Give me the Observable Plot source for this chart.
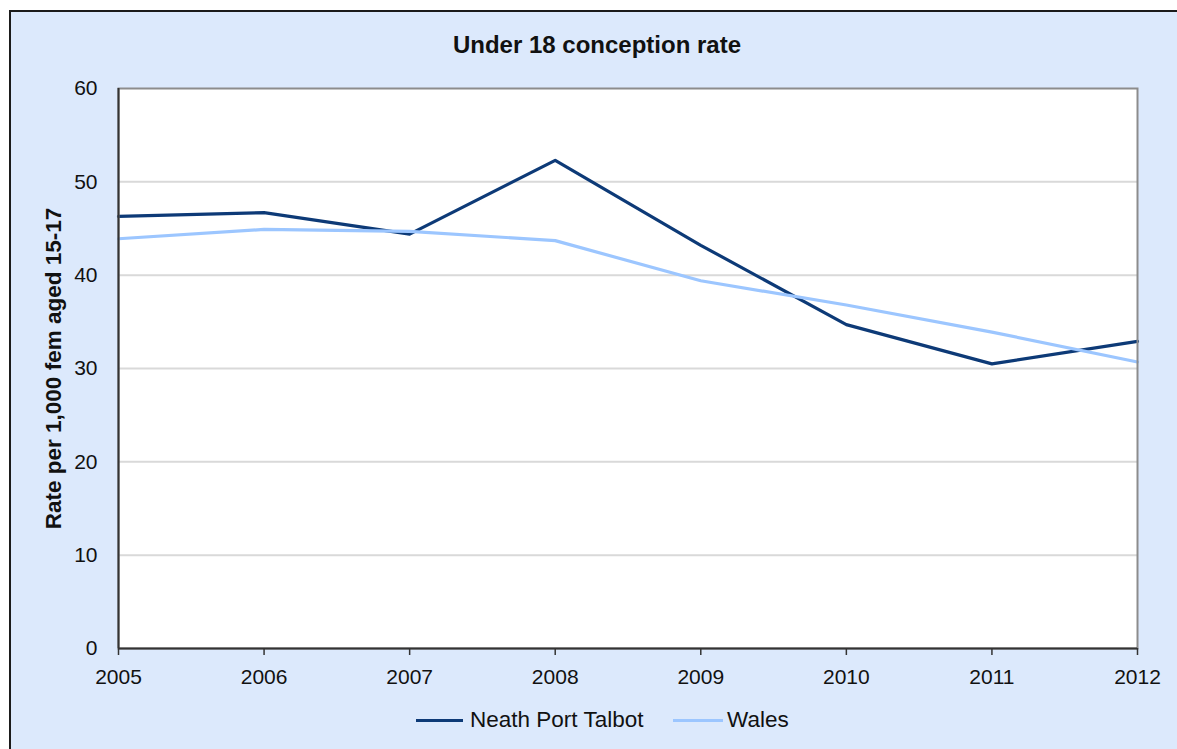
<!DOCTYPE html>
<html>
<head>
<meta charset="utf-8">
<script src="https://cdn.jsdelivr.net/npm/d3@7"></script>
<script src="https://cdn.jsdelivr.net/npm/@observablehq/plot@0.6"></script>
<style>
  html, body { margin: 0; padding: 0; width: 1177px; height: 749px; background: #ffffff; overflow: hidden; font-family: "Liberation Sans", Arial, sans-serif; color: #111; }
  #frame { position: absolute; left: 9px; top: 10px; width: 1166px; height: 737px; border-left: 2px solid #1b1b1b; border-top: 2px solid #1b1b1b; background: #dce9fc; }
  #title { position: absolute; left: 0; top: 33px; width: 1194px; text-align: center; font-weight: bold; font-size: 24px; line-height: 24px; color: #111; }
  #chart { position: absolute; left: 0; top: 60px; }
  .sw { position: absolute; height: 3px; }
  .lt { position: absolute; font-size: 22.5px; line-height: 22px; color: #111; white-space: nowrap; }
</style>
</head>
<body>
<div id="frame"></div>
<div id="title"></div>
<div id="chart"></div>
<div id="legend"></div>
<script>
const titleText = "Under 18 conception rate";
const yLabel = "Rate per 1,000 fem aged 15-17";
const years = [2005, 2006, 2007, 2008, 2009, 2010, 2011, 2012];
const neathName = "Neath Port Talbot";
const walesName = "Wales";
const neath = [46.3, 46.7, 44.4, 52.3, 43.2, 34.7, 30.5, 32.9];
const wales = [43.9, 44.9, 44.7, 43.7, 39.4, 36.8, 33.9, 30.7];
const yTicks = [0, 10, 20, 30, 40, 50, 60];
const gridTicks = [10, 20, 30, 40, 50];
const neathColor = "#0d3a77";
const walesColor = "#9cc6ff";

document.getElementById("title").textContent = titleText;

const rows = (vals) => years.map((y, i) => ({year: y, value: vals[i]}));

const chart = Plot.plot({
  width: 1177,
  height: 620,
  marginLeft: 118,
  marginRight: 40,
  marginTop: 28,
  marginBottom: 32,
  style: { background: "transparent", fontFamily: "'Liberation Sans', Arial, sans-serif", fontSize: "21px", color: "#111", overflow: "visible" },
  x: { type: "linear", domain: [2005, 2012] },
  y: { domain: [0, 60] },
  marks: [
    Plot.frame({ fill: "white", stroke: null }),
    Plot.ruleY(gridTicks, { stroke: "#d9d9d9", strokeWidth: 2 }),
    Plot.lineY(rows(neath), { x: "year", y: "value", stroke: neathColor, strokeWidth: 3.2 }),
    Plot.lineY(rows(wales), { x: "year", y: "value", stroke: walesColor, strokeWidth: 3.2 }),
    Plot.frame({ stroke: "#8c8c8c", strokeWidth: 2 }),
    Plot.ruleX([2005], { stroke: "#333", strokeWidth: 2 }),
    Plot.ruleY([0], { stroke: "#333", strokeWidth: 2 }),
    Plot.axisY({ ticks: yTicks, tickSize: 0, tickPadding: 21, label: null, tickFormat: d => String(d) }),
    Plot.axisX({ ticks: years, tickSize: 7, tickPadding: 14, label: null, tickFormat: d => String(d), stroke: "#333", strokeWidth: 1.5 }),
    Plot.text([yLabel], { text: d => d, frameAnchor: "left", dx: -65, rotate: -90, textAnchor: "middle", fontWeight: "bold", fontSize: 22.5, fill: "#111" })
  ]
});
document.getElementById("chart").appendChild(chart);

const legend = document.getElementById("legend");
const items = [
  { name: neathName, color: neathColor, sx: 416, sw: 47, tx: 470 },
  { name: walesName, color: walesColor, sx: 673, sw: 50, tx: 727 }
];
for (const it of items) {
  const s = document.createElement("div");
  s.className = "sw";
  s.style.left = it.sx + "px";
  s.style.top = "719px";
  s.style.width = it.sw + "px";
  s.style.background = it.color;
  legend.appendChild(s);
  const t = document.createElement("div");
  t.className = "lt";
  t.style.left = it.tx + "px";
  t.style.top = "709px";
  t.textContent = it.name;
  legend.appendChild(t);
}
</script>
</body>
</html>
